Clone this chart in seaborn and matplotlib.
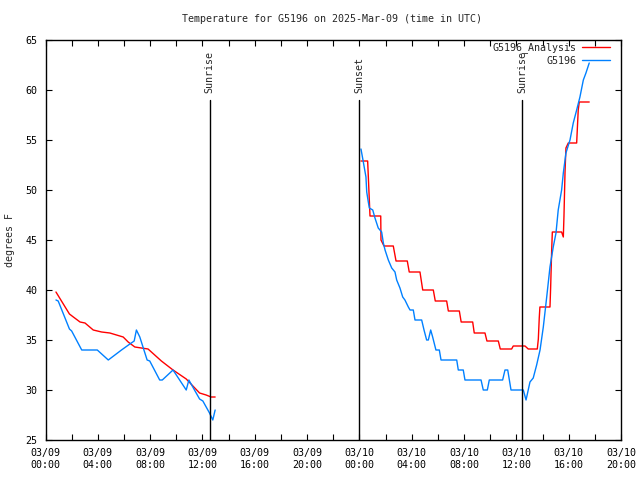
import pandas as pd
import numpy as np
import matplotlib
matplotlib.use("Agg")
import matplotlib.pyplot as plt
import matplotlib.dates as mdates
from matplotlib.lines import Line2D
import seaborn as sns

# hours after 2025-03-09 00:00 UTC, temperatures in degrees F
red_hours_1 = [0.80, 1.83, 2.13, 2.64, 3.02, 3.65, 4.29, 4.92, 5.43, 5.94, 6.32, 6.83,
               7.33, 7.84, 8.35, 8.86, 9.75, 10.76, 11.27, 11.78, 12.28, 12.66, 12.97]
red_temp_1 = [39.8, 37.6, 37.3, 36.8, 36.7, 36.0, 35.8, 35.7, 35.5, 35.3, 34.8, 34.3,
              34.2, 34.1, 33.5, 32.9, 32.0, 31.1, 30.4, 29.7, 29.5, 29.3, 29.3]

red_hours_2 = [24.12, 24.63, 24.81, 25.63, 25.65, 25.88, 26.59, 26.80, 27.66, 27.81,
               28.63, 28.84, 29.65, 29.80, 30.67, 30.80, 31.64, 31.78, 32.66, 32.78,
               33.60, 33.75, 34.62, 34.77, 35.64, 35.76, 36.66, 36.91, 37.60, 37.68,
               37.75, 37.80, 38.57, 38.62, 38.70, 38.75, 39.46, 39.59, 39.64, 39.72,
               39.79, 39.97, 40.61, 40.73, 40.81, 41.57]
red_temp_2 = [52.9, 52.9, 47.4, 47.4, 45.0, 44.4, 44.4, 42.9, 42.9, 41.8,
              41.8, 40.0, 40.0, 38.9, 38.9, 37.9, 37.9, 36.8, 36.8, 35.7,
              35.7, 34.9, 34.9, 34.1, 34.1, 34.4, 34.4, 34.1, 34.1, 35.1,
              37.2, 38.3, 38.3, 40.2, 44.0, 45.8, 45.8, 45.3, 47.4, 51.8,
              54.2, 54.7, 54.7, 58.0, 58.8, 58.8]

obs_hours_1 = [0.80, 0.97, 1.83, 2.00, 2.77, 3.96, 4.80, 5.81, 6.45, 6.78, 6.95, 7.21,
               7.77, 7.97, 8.73, 8.93, 9.75, 10.76, 10.96, 11.78, 12.03, 12.54, 12.79, 12.97]
obs_temp_1 = [39.0, 38.9, 36.1, 35.9, 34.0, 34.0, 33.0, 34.0, 34.6, 34.9, 36.0, 35.3,
              33.0, 32.9, 31.0, 31.0, 32.0, 30.0, 31.0, 29.1, 28.9, 27.7, 27.0, 28.0]

obs_hours_2 = [24.12, 24.30, 24.50, 24.56, 24.68, 24.76, 25.02, 25.19, 25.44, 25.70,
               25.83, 25.96, 26.21, 26.47, 26.72, 26.85, 27.10, 27.31, 27.48, 27.74,
               27.87, 28.12, 28.25, 28.76, 28.94, 29.14, 29.27, 29.45, 29.60, 29.85,
               30.11, 30.24, 31.44, 31.56, 31.94, 32.07, 33.30, 33.47, 33.78, 33.93,
               34.95, 35.13, 35.34, 35.59, 36.53, 36.74, 37.04, 37.29, 37.55, 37.81,
               38.06, 38.32, 38.57, 38.82, 39.03, 39.20, 39.46, 39.59, 39.79, 40.10,
               40.35, 40.61, 40.86, 41.12, 41.32, 41.57]
obs_temp_2 = [54.1, 52.8, 51.3, 49.8, 48.8, 48.2, 48.0, 47.2, 46.2, 45.8,
              44.7, 44.0, 43.0, 42.2, 41.8, 41.0, 40.2, 39.3, 39.0, 38.3,
              38.0, 38.0, 37.0, 37.0, 36.0, 35.0, 35.0, 36.0, 35.3, 34.0,
              34.0, 33.0, 33.0, 32.0, 32.0, 31.0, 31.0, 30.0, 30.0, 31.0,
              31.0, 32.0, 32.0, 30.0, 30.0, 29.0, 30.8, 31.2, 32.5, 34.0,
              36.3, 39.3, 42.3, 44.3, 45.7, 48.0, 50.0, 51.7, 53.7, 55.0,
              56.7, 58.0, 59.3, 61.0, 61.7, 62.7]

sun_labels = ["Sunrise", "Sunset", "Sunrise"]
sun_hours = [12.54, 24.0, 36.43]

start = pd.Timestamp("2025-03-09 00:00")

parts = []
for name, seg, hrs, tmp in [
    ("G5196_Analysis", 1, red_hours_1, red_temp_1),
    ("G5196_Analysis", 2, red_hours_2, red_temp_2),
    ("G5196", 1, obs_hours_1, obs_temp_1),
    ("G5196", 2, obs_hours_2, obs_temp_2),
]:
    parts.append(pd.DataFrame({
        "time": start + pd.to_timedelta(hrs, unit="h"),
        "temp": tmp,
        "series": name,
        "seg": seg,
    }))
df = pd.concat(parts, ignore_index=True)

sns.set_style("ticks")
plt.rcParams["font.family"] = ["DejaVu Sans Mono"]
plt.rcParams["font.size"] = 7.2

colors = {"G5196_Analysis": "#ff0000", "G5196": "#0080ff"}

fig = plt.figure(figsize=(6.4, 4.8), dpi=100)
ax = fig.add_axes([45.5 / 640, 40 / 480, 575.5 / 640, 400 / 480])

sns.lineplot(data=df, x="time", y="temp", hue="series", units="seg",
             estimator=None, sort=False, hue_order=["G5196_Analysis", "G5196"],
             palette=colors, linewidth=1.0, legend=False, ax=ax)

ax.set_xlim(start, start + pd.Timedelta(hours=44))
ax.set_ylim(25, 65)
ax.set_yticks(np.arange(25, 66, 5))
ax.xaxis.set_major_locator(mdates.HourLocator(byhour=[0, 4, 8, 12, 16, 20]))
ax.xaxis.set_minor_locator(mdates.HourLocator(byhour=range(0, 24, 2)))
ax.xaxis.set_major_formatter(mdates.DateFormatter("%m/%d\n%H:%M"))
ax.tick_params(which="both", direction="in", top=True, right=True,
               color="black", width=0.8, labelsize=7.2, labelcolor="black")
ax.tick_params(which="major", length=4, pad=6)
ax.tick_params(which="minor", length=4)
ax.set_xlabel("")
ax.set_ylabel("")
for sp in ax.spines.values():
    sp.set_color("black")
    sp.set_linewidth(1.0)

for lab, h in zip(sun_labels, sun_hours):
    t = start + pd.Timedelta(hours=h)
    ax.plot([t, t], [25, 59], color="black", linewidth=1.0)
    ax.text(t, 59.7, lab, rotation=90, ha="center", va="bottom", fontsize=7.2)

handles = [Line2D([], [], color=colors["G5196_Analysis"], linewidth=1.0),
           Line2D([], [], color=colors["G5196"], linewidth=1.0)]
ax.legend(handles, ["G5196_Analysis", "G5196"], loc="upper right",
          bbox_to_anchor=(0.988, 1.004), frameon=False,
          markerfirst=False, handlelength=2.8, handletextpad=0.6, labelspacing=0.25,
          borderaxespad=0.0, fontsize=7.2)

fig.text(332 / 640, 1 - 19 / 480, "Temperature for G5196 on 2025-Mar-09 (time in UTC)",
         ha="center", va="center", fontsize=7.2)
fig.text(10 / 640, 0.5, "degrees F", rotation=90, ha="center", va="center", fontsize=7.2)

fig.savefig("out.png", dpi=100)
